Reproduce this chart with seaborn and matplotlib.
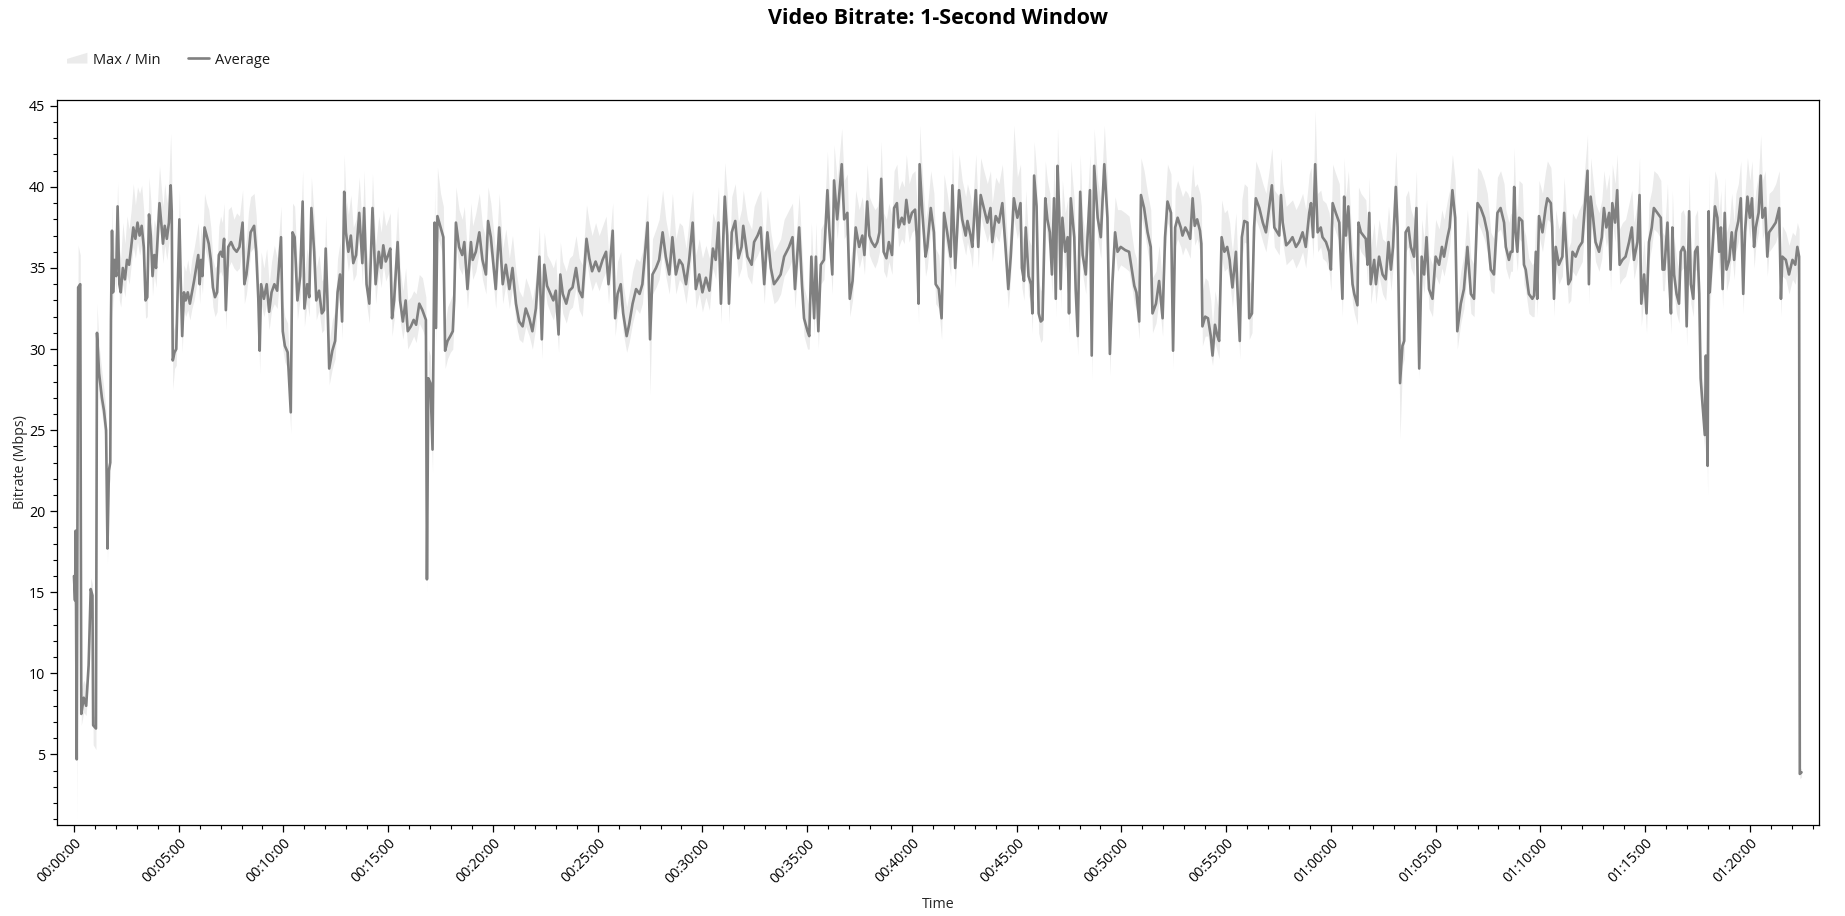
import matplotlib
matplotlib.use("Agg")
import matplotlib.pyplot as plt
import seaborn as sns
import pandas as pd
from matplotlib.ticker import MultipleLocator, FuncFormatter
from matplotlib.lines import Line2D
from matplotlib.patches import Patch, Polygon
from matplotlib.legend_handler import HandlerPatch

# Bitrate samples (time in seconds, Mbps)
time_s = [
    0, 3, 5, 8, 12, 18, 21, 28, 35, 42, 48, 53, 55, 63, 66, 72, 80, 86, 92, 96,
    100, 104, 106, 109, 112, 116, 121, 125, 130, 134, 140, 146, 152, 158, 164, 170, 176, 182, 188, 194,
    200, 205, 210, 215, 220, 225, 230, 235, 240, 245, 250, 255, 260, 266, 272, 277, 280, 283, 288, 293,
    298, 302, 306, 310, 315, 320, 326, 332, 338, 344, 350, 356, 360, 364, 368, 374, 380, 386, 392, 398,
    404, 410, 415, 420,
    425, 430, 435, 442, 450, 458, 466, 474, 483, 488, 494, 500, 506, 516, 522, 528, 532, 536, 544, 552,
    559, 566, 574, 582, 593, 598, 604, 612, 621, 626, 632, 640, 648, 655, 660, 668, 674, 680, 688, 694,
    702, 710, 716, 721, 726, 731, 740, 748, 755, 762, 768, 774, 779, 786, 793, 800, 808, 817, 826, 831,
    838, 846, 855, 864, 873,
    880, 886, 893, 900, 906, 911, 917, 927, 934, 942, 950, 956, 965, 973, 980, 989, 998, 1008, 1011, 1015,
    1021, 1027, 1033, 1037, 1041, 1050, 1058, 1063, 1070, 1078, 1085, 1089, 1094, 1103, 1112, 1118, 1127, 1137, 1142, 1151,
    1161, 1170, 1180, 1186, 1194, 1204, 1208, 1218, 1228, 1237, 1247, 1256, 1266, 1275, 1285, 1294, 1304, 1313, 1323, 1333,
    1340, 1347, 1355, 1365, 1373, 1380, 1388, 1393, 1400, 1410, 1419, 1428, 1438, 1447, 1456, 1468, 1476, 1484, 1494, 1504,
    1514, 1524, 1531, 1543, 1550, 1557, 1566, 1573, 1583, 1590, 1600, 1610, 1620, 1628, 1643, 1650, 1657, 1667, 1676, 1686,
    1695, 1705, 1714, 1724, 1734, 1743, 1753, 1762, 1772, 1781, 1791,
    1800, 1810, 1820, 1830, 1838, 1846, 1853, 1864, 1871, 1876, 1884, 1894, 1903, 1912, 1917, 1929, 1941, 1948, 1958, 1967,
    1977, 1986, 1996, 2005, 2015, 2024, 2034, 2048, 2058, 2065, 2077, 2085, 2091, 2101, 2106, 2112, 2120, 2125, 2132, 2139,
    2148, 2158, 2163, 2172, 2177, 2186, 2199, 2206, 2215, 2222, 2230, 2239, 2249,
    2258, 2264, 2272, 2278, 2285, 2294, 2301, 2307, 2312, 2319, 2327, 2334, 2343, 2349, 2357, 2362, 2371, 2378, 2384, 2392,
    2400, 2409, 2414, 2419, 2422, 2430, 2439, 2444, 2454, 2463, 2468, 2477, 2485, 2492, 2501, 2511, 2516, 2524, 2530, 2535,
    2544, 2554, 2559, 2568, 2573, 2583, 2590, 2597, 2606, 2616, 2625, 2630, 2640, 2649, 2659, 2668, 2676, 2683, 2692, 2702,
    2711,
    2715, 2721, 2726, 2734, 2741, 2745, 2750, 2757, 2763, 2769, 2774, 2782, 2788, 2795, 2801, 2807, 2812, 2817, 2822, 2826,
    2831, 2839, 2846, 2850, 2855, 2865, 2869, 2875, 2882, 2889, 2898, 2903, 2910, 2915, 2922, 2932, 2941, 2951, 2960, 2967,
    2974, 2982, 2989, 2998, 3011, 3022, 3030, 3037, 3043, 3051, 3056, 3065, 3075, 3084, 3089, 3099, 3108, 3118, 3125, 3132,
    3142, 3148, 3154, 3161, 3170,
    3175, 3183, 3190, 3197, 3204, 3210, 3217, 3225, 3229, 3232, 3240, 3248, 3256, 3261, 3268, 3275, 3280, 3287, 3295, 3303,
    3310, 3314, 3318, 3328, 3333, 3339, 3345, 3352, 3361, 3366, 3374, 3380, 3385, 3395, 3405, 3414, 3423, 3431, 3438, 3452,
    3457, 3462, 3472, 3481, 3490, 3500, 3509, 3519, 3528, 3538, 3543, 3549, 3555, 3562, 3571, 3576, 3586, 3595, 3600, 3605,
    3614, 3624,
    3633, 3638, 3643, 3650, 3657, 3662, 3667, 3676, 3679, 3686, 3700, 3705, 3710, 3714, 3724, 3729, 3738, 3748, 3757, 3765,
    3772, 3778, 3786, 3791, 3798, 3805, 3810, 3814, 3822, 3829, 3838, 3845, 3853, 3860, 3867, 3874, 3881, 3891, 3900, 3910,
    3918, 3924, 3934, 3940, 3948, 3956, 3962, 3972, 3981, 3991, 4001, 4010, 4020, 4029, 4039, 4048, 4058, 4067, 4077, 4086,
    4096, 4101, 4110, 4115, 4120, 4125, 4129, 4134, 4139, 4148, 4153, 4158, 4167, 4177, 4182, 4187, 4191, 4196, 4206, 4215,
    4220, 4230, 4234, 4239, 4244, 4253, 4263, 4268, 4272, 4280, 4287, 4292, 4301, 4311, 4320, 4328, 4335, 4339, 4344, 4351,
    4358, 4368, 4376, 4382, 4389, 4397, 4401, 4406, 4414, 4420, 4427, 4435, 4444, 4454, 4462, 4468, 4478, 4484, 4489, 4497,
    4504, 4511, 4519, 4525, 4535, 4545,
    4550, 4555, 4564, 4569, 4574, 4578, 4583, 4590, 4597, 4602, 4609, 4614, 4619, 4626, 4631, 4638, 4643, 4650, 4655, 4659,
    4664, 4671, 4674, 4679, 4682, 4685, 4691, 4700, 4707, 4712, 4717, 4722, 4728, 4733, 4741, 4748, 4755, 4760, 4767, 4774,
    4781, 4786, 4793, 4800, 4806, 4812, 4817, 4825, 4831, 4836, 4844, 4850, 4855, 4865, 4874, 4884, 4889, 4893, 4903, 4912,
    4922, 4930, 4936, 4941, 4943, 4948,
]

avg_mbps = [
    16.0, 14.5, 18.8, 4.7, 33.8, 34.0, 7.5, 8.5, 8.0, 10.5, 15.2, 14.8, 6.8, 6.6, 31.0, 28.5, 27.0, 26.2, 25.0, 17.7,
    22.5, 23.0, 31.8, 37.3, 33.5, 35.5, 34.5, 38.8, 34.0, 33.5, 35.0, 34.3, 35.5, 35.2, 36.3, 37.5, 36.8, 37.8, 37.0, 37.6,
    36.3, 33.0, 33.2, 38.3, 37.0, 34.5, 35.8, 35.0, 37.0, 39.0, 37.8, 36.5, 37.6, 36.8, 37.8, 40.1, 38.5, 29.3, 29.8, 30.0,
    34.5, 38.0, 34.0, 30.8, 33.5, 33.0, 33.5, 32.8, 33.5, 34.2, 35.0, 35.8, 34.0, 35.5, 34.5, 37.5, 37.0, 36.5, 35.5, 33.8,
    33.2, 33.5, 35.8, 36.0,
    35.7, 36.8, 32.4, 36.3, 36.6, 36.2, 36.0, 36.3, 37.8, 34.0, 34.6, 35.8, 37.2, 37.6, 36.0, 33.1, 29.9, 34.0, 33.1, 34.0,
    32.3, 33.5, 34.0, 33.6, 36.9, 31.1, 30.2, 29.8, 26.1, 37.2, 36.9, 33.0, 34.5, 39.1, 32.5, 34.0, 33.2, 38.7, 36.0, 33.0,
    33.6, 32.2, 32.4, 36.2, 33.0, 28.8, 29.9, 30.5, 33.5, 34.6, 31.7, 39.7, 37.2, 36.0, 37.0, 35.3, 35.8, 38.4, 35.3, 38.7,
    34.0, 32.8, 38.7, 34.0, 36.0,
    35.0, 36.4, 35.4, 35.8, 36.2, 31.9, 33.0, 36.6, 33.0, 31.7, 33.0, 31.1, 31.4, 31.8, 31.5, 32.8, 32.4, 31.8, 15.8, 28.2,
    27.9, 23.8, 37.8, 31.3, 38.2, 37.5, 36.9, 29.9, 30.5, 30.8, 31.1, 33.0, 37.8, 36.3, 35.8, 36.6, 33.7, 36.6, 35.5, 36.0,
    37.2, 35.5, 34.6, 37.9, 36.9, 34.6, 33.7, 37.5, 34.0, 35.2, 33.7, 35.0, 32.8, 31.7, 31.4, 32.5, 31.9, 31.1, 32.5, 35.7,
    30.6, 35.2, 33.9, 33.4, 33.0, 33.6, 30.9, 34.6, 33.4, 32.8, 33.6, 33.8, 35.0, 33.6, 33.2, 36.8, 35.6, 34.8, 35.4, 34.8,
    35.5, 36.0, 34.0, 37.3, 31.9, 33.4, 34.0, 32.2, 30.8, 31.5, 32.8, 33.7, 33.4, 34.0, 37.8, 30.6, 34.6, 35.0, 35.5, 37.2,
    35.7, 34.6, 36.9, 34.6, 35.5, 35.2, 34.0, 35.5, 37.8, 33.7, 34.6,
    33.5, 34.4, 33.6, 36.2, 35.5, 37.8, 32.8, 39.4, 37.0, 32.8, 37.2, 37.9, 35.6, 36.3, 37.6, 35.7, 35.2, 36.6, 37.0, 37.5,
    34.0, 37.2, 35.0, 34.0, 34.3, 34.6, 35.7, 36.3, 36.9, 33.7, 37.5, 34.0, 31.9, 31.1, 30.8, 35.7, 31.9, 35.7, 31.1, 35.2,
    35.5, 39.8, 37.5, 34.6, 40.4, 38.0, 41.4, 38.0, 38.4, 33.1, 34.2, 37.5, 36.3,
    37.0, 35.8, 39.1, 37.0, 36.6, 36.3, 36.6, 37.2, 40.5, 36.0, 35.6, 36.6, 35.8, 38.7, 39.0, 37.5, 38.1, 37.7, 39.2, 37.8,
    38.4, 38.6, 36.9, 32.8, 41.4, 38.4, 35.7, 36.3, 38.7, 37.2, 34.0, 33.7, 31.9, 38.4, 37.2, 35.7, 40.1, 35.0, 37.5, 39.8,
    38.0, 37.0, 37.9, 37.0, 36.3, 39.8, 36.3, 39.5, 38.7, 37.8, 38.7, 36.6, 38.2, 37.8, 39.0, 36.3, 33.7, 35.7, 39.3, 38.1,
    39.0,
    35.0, 34.2, 37.5, 34.5, 34.0, 32.2, 40.7, 38.8, 32.2, 31.7, 31.8, 39.3, 38.0, 37.2, 34.6, 39.3, 33.1, 41.3, 38.4, 33.7,
    38.1, 36.0, 36.9, 32.2, 39.3, 36.9, 33.7, 30.8, 39.7, 35.8, 34.6, 36.9, 39.8, 29.6, 41.3, 38.1, 36.9, 41.4, 38.1, 29.7,
    34.0, 37.2, 36.0, 36.3, 36.1, 36.0, 34.9, 33.9, 33.5, 31.7, 39.5, 38.7, 37.2, 36.3, 32.2, 32.8, 34.2, 31.9, 36.9, 39.1,
    38.4, 29.9, 37.5, 38.1, 37.5,
    37.0, 37.5, 37.2, 36.8, 39.3, 37.6, 38.0, 37.3, 36.5, 31.4, 32.0, 31.9, 30.8, 29.6, 31.5, 30.8, 30.5, 36.9, 36.0, 36.3,
    35.5, 34.6, 33.8, 36.0, 33.4, 30.5, 36.9, 37.9, 37.8, 31.9, 32.2, 37.5, 39.3, 38.7, 37.8, 37.2, 38.7, 40.1, 37.5, 37.0,
    39.5, 37.8, 36.4, 36.6, 36.9, 36.3, 36.6, 37.2, 36.3, 38.4, 39.0, 36.9, 41.4, 37.2, 37.5, 36.9, 36.6, 36.0, 34.9, 39.0,
    38.4, 37.8,
    33.1, 39.4, 37.0, 38.8, 35.7, 34.0, 33.4, 32.7, 37.8, 37.2, 36.8, 35.2, 38.4, 34.0, 35.5, 34.0, 35.7, 34.6, 34.3, 36.6,
    34.9, 36.3, 40.0, 37.5, 27.9, 30.2, 30.5, 37.2, 37.5, 36.3, 35.7, 38.7, 28.8, 35.7, 34.6, 36.9, 33.7, 33.1, 35.7, 35.2,
    36.3, 35.7, 36.9, 37.5, 39.8, 38.1, 31.1, 32.8, 33.7, 36.3, 33.4, 33.1, 39.0, 38.7, 38.1, 37.2, 34.9, 34.6, 38.4, 38.7,
    37.8, 36.3, 35.5, 36.0, 36.0, 40.0, 37.2, 36.0, 38.1, 37.9, 35.2, 34.9, 33.4, 33.1, 33.3, 36.0, 33.1, 38.2, 37.2, 38.7,
    39.3, 39.0, 37.5, 33.1, 36.3, 35.2, 35.7, 38.4, 36.9, 34.0, 34.3, 36.0, 35.7, 36.3, 36.6, 39.0, 41.0, 34.0, 39.4, 38.1,
    36.6, 36.0, 36.9, 38.7, 37.5, 38.4, 34.9, 39.0, 37.8, 39.8, 35.2, 35.5, 35.7, 36.6, 37.5, 35.5, 36.6, 39.5, 32.8, 34.6,
    32.2, 36.6, 37.5, 38.7, 38.4, 38.1,
    34.9, 34.9, 37.8, 34.3, 32.2, 37.5, 34.6, 33.4, 32.8, 36.0, 36.3, 36.0, 31.4, 38.5, 34.0, 33.1, 36.0, 36.3, 33.4, 28.2,
    26.7, 24.7, 29.6, 22.8, 38.5, 33.5, 35.5, 38.8, 38.1, 36.0, 37.5, 33.7, 38.4, 34.9, 35.5, 37.2, 35.5, 37.2, 37.9, 39.3,
    33.4, 37.2, 39.4, 38.1, 39.3, 36.3, 37.5, 38.4, 40.7, 38.1, 38.7, 35.7, 37.2, 37.5, 37.8, 38.7, 33.1, 35.7, 35.5, 34.6,
    35.5, 35.2, 36.3, 35.7, 3.8, 3.9,
]

max_mbps = [
    17.2, 16.0, 20.5, 8.0, 36.4, 35.8, 9.0, 9.6, 9.2, 11.6, 15.9, 15.5, 7.4, 7.2, 32.8, 30.2, 28.6, 27.5, 26.2, 18.6,
    23.6, 24.2, 33.5, 38.9, 35.5, 37.2, 36.6, 40.3, 36.2, 35.6, 37.8, 36.5, 38.2, 37.4, 38.6, 40.2, 38.9, 40.0, 39.6, 40.1,
    38.5, 34.8, 35.4, 40.6, 39.2, 36.8, 38.0, 37.5, 39.4, 41.3, 40.0, 38.8, 40.2, 39.0, 40.5, 43.3, 40.8, 31.0, 31.4, 31.8,
    36.2, 39.8, 36.0, 32.6, 35.2, 34.8, 35.5, 34.6, 35.6, 36.2, 37.0, 37.8, 36.0, 37.6, 36.5, 39.6, 39.0, 38.6, 37.5, 35.5,
    35.0, 35.2, 37.6, 38.2,
    37.8, 39.0, 34.2, 38.6, 38.8, 38.0, 38.4, 38.2, 39.8, 36.0, 36.8, 38.5, 39.4, 39.6, 38.2, 35.0, 31.2, 36.0, 35.0, 36.2,
    34.0, 35.4, 36.4, 35.6, 38.8, 33.0, 32.0, 31.6, 27.6, 39.0, 38.8, 35.0, 36.8, 41.0, 34.6, 36.2, 35.2, 40.6, 38.2, 35.0,
    35.8, 34.2, 34.4, 38.2, 35.0, 30.4, 31.8, 32.4, 35.6, 36.6, 33.6, 42.0, 39.4, 38.3, 39.5, 37.5, 38.0, 40.6, 37.4, 41.0,
    36.2, 34.8, 40.8, 36.4, 38.2,
    37.2, 38.6, 37.6, 38.0, 38.4, 33.8, 35.0, 38.8, 35.0, 33.6, 35.0, 33.0, 33.2, 33.6, 33.4, 34.6, 34.4, 33.2, 17.0, 30.0,
    29.6, 25.0, 40.0, 33.4, 41.2, 39.6, 38.8, 31.6, 32.6, 33.0, 33.4, 35.2, 40.0, 38.6, 38.0, 38.8, 35.8, 39.0, 37.6, 38.4,
    39.6, 37.6, 36.8, 40.0, 39.0, 36.8, 35.8, 39.6, 36.2, 37.4, 35.6, 37.0, 34.8, 33.6, 33.2, 34.4, 33.8, 33.0, 34.4, 37.6,
    32.4, 37.2, 35.8, 35.4, 35.0, 35.6, 32.6, 36.6, 35.4, 34.8, 35.6, 35.8, 37.0, 35.6, 35.2, 38.9, 37.8, 37.0, 37.8, 37.0,
    37.6, 38.2, 36.0, 39.0, 33.8, 35.4, 36.0, 34.0, 32.6, 33.4, 34.8, 35.6, 35.4, 36.0, 39.6, 32.4, 36.8, 37.4, 38.0, 39.8,
    38.0, 36.8, 39.6, 36.8, 37.8, 37.6, 36.2, 38.0, 39.8, 35.8, 36.8,
    35.6, 36.4, 35.6, 38.4, 37.8, 40.0, 34.8, 41.5, 39.6, 34.8, 39.4, 40.2, 37.8, 38.6, 39.8, 38.0, 37.4, 38.8, 39.4, 39.8,
    36.0, 39.4, 37.2, 36.0, 36.4, 36.8, 38.0, 38.6, 39.0, 35.8, 39.6, 36.2, 33.8, 33.0, 32.6, 37.8, 34.0, 37.8, 33.2, 37.4,
    37.8, 42.2, 39.8, 36.8, 42.6, 40.4, 43.6, 40.4, 40.8, 35.2, 36.4, 39.8, 38.6,
    39.4, 38.0, 41.4, 39.4, 39.0, 38.6, 38.8, 39.6, 42.8, 38.4, 38.0, 39.0, 38.2, 41.0, 41.4, 39.8, 40.4, 40.0, 42.0, 40.2,
    40.8, 41.0, 39.2, 34.8, 43.8, 40.8, 38.0, 38.6, 41.0, 39.6, 36.2, 35.8, 33.8, 40.8, 39.6, 38.0, 42.4, 37.4, 39.8, 42.0,
    40.4, 39.4, 40.2, 39.4, 38.6, 42.0, 38.6, 41.8, 41.0, 40.2, 41.0, 39.0, 40.6, 40.2, 41.4, 38.6, 35.8, 38.0, 43.8, 40.6,
    41.4,
    37.4, 36.6, 39.8, 36.8, 36.4, 34.2, 42.8, 41.0, 34.2, 33.6, 33.8, 41.6, 40.4, 39.6, 36.8, 41.6, 35.2, 43.6, 40.8, 35.8,
    40.4, 38.4, 39.2, 34.2, 41.6, 39.2, 35.8, 32.6, 42.0, 38.2, 36.8, 39.2, 42.0, 31.4, 43.6, 40.4, 39.2, 43.8, 40.4, 31.6,
    36.2, 39.4, 38.6, 38.6, 38.4, 38.2, 37.0, 36.0, 35.6, 33.6, 41.8, 41.0, 39.6, 38.6, 34.4, 34.8, 36.4, 34.0, 39.0, 41.4,
    40.8, 31.6, 39.8, 40.4, 39.8,
    39.4, 39.8, 39.6, 39.2, 41.4, 40.0, 40.2, 39.6, 38.8, 33.6, 34.4, 34.2, 33.0, 31.4, 33.6, 32.8, 32.4, 39.2, 38.4, 38.6,
    37.8, 36.8, 36.0, 38.4, 35.6, 32.4, 39.2, 40.2, 40.0, 34.0, 34.4, 39.8, 41.6, 41.0, 40.2, 39.6, 41.0, 42.4, 39.8, 39.4,
    41.8, 40.2, 38.8, 39.0, 39.2, 38.6, 39.0, 39.6, 38.6, 40.8, 41.2, 39.2, 44.7, 39.6, 39.8, 39.2, 39.0, 38.4, 37.0, 41.4,
    40.8, 40.2,
    35.2, 41.8, 39.4, 41.0, 38.0, 36.2, 35.6, 34.8, 40.0, 39.6, 39.2, 37.4, 40.6, 36.2, 37.8, 36.2, 38.0, 36.8, 36.6, 38.8,
    37.2, 38.6, 42.2, 39.8, 29.6, 32.0, 32.4, 39.4, 39.8, 38.6, 38.0, 41.0, 30.6, 38.0, 36.8, 39.2, 35.8, 35.2, 38.0, 37.4,
    38.6, 38.0, 39.2, 39.8, 42.0, 40.4, 33.0, 34.8, 35.8, 38.6, 35.6, 35.2, 41.2, 41.0, 40.4, 39.6, 37.2, 36.8, 40.6, 41.0,
    40.2, 38.6, 37.8, 38.4, 38.2, 42.4, 39.6, 38.4, 40.4, 40.2, 37.4, 37.0, 35.6, 35.2, 35.4, 38.2, 35.2, 40.4, 39.6, 41.0,
    41.6, 41.2, 39.8, 35.2, 38.6, 37.4, 38.0, 40.6, 39.2, 36.2, 36.6, 38.4, 38.0, 38.6, 39.0, 41.4, 43.2, 36.2, 41.8, 40.4,
    39.0, 38.4, 39.2, 41.0, 39.8, 40.8, 37.2, 41.4, 40.2, 42.0, 37.4, 37.8, 38.0, 39.0, 39.8, 37.8, 39.0, 41.8, 34.8, 36.8,
    34.2, 39.0, 39.8, 41.0, 40.8, 40.4,
    37.2, 37.0, 40.2, 36.6, 34.2, 39.8, 36.8, 35.6, 34.8, 38.4, 38.6, 38.2, 33.4, 40.8, 36.2, 35.2, 38.2, 38.6, 35.6, 30.0,
    28.4, 26.4, 31.4, 24.0, 40.8, 35.6, 37.8, 41.0, 40.4, 38.4, 39.8, 35.8, 40.6, 37.2, 37.8, 39.6, 37.8, 39.6, 40.2, 41.6,
    35.6, 39.6, 41.8, 40.4, 41.6, 38.6, 39.8, 40.8, 43.2, 40.4, 41.0, 38.0, 39.6, 39.8, 40.2, 41.0, 35.2, 37.6, 37.2, 36.4,
    37.2, 37.0, 37.8, 37.4, 4.2, 4.1,
]

min_mbps = [
    14.4, 14.0, 17.8, 1.0, 32.8, 33.0, 6.8, 7.6, 7.4, 9.8, 14.0, 14.3, 5.6, 5.3, 29.0, 27.0, 26.0, 25.0, 24.0, 16.8,
    21.5, 22.0, 30.2, 36.0, 32.4, 34.4, 33.5, 37.6, 33.0, 32.6, 34.0, 33.2, 34.6, 34.0, 35.2, 36.3, 35.6, 36.6, 35.8, 36.4,
    35.0, 31.9, 32.0, 37.2, 35.8, 33.3, 34.6, 33.8, 35.8, 37.8, 36.5, 35.3, 36.4, 35.5, 36.6, 38.8, 37.2, 27.5, 28.8, 29.0,
    33.2, 36.8, 32.8, 29.8, 32.4, 32.0, 32.4, 31.8, 32.5, 33.0, 33.8, 34.6, 32.8, 34.3, 33.4, 36.3, 35.8, 35.3, 34.3, 32.6,
    32.0, 32.3, 34.6, 34.8,
    34.5, 35.5, 31.2, 35.0, 35.4, 35.0, 34.8, 35.0, 36.5, 32.8, 33.4, 34.6, 36.0, 36.3, 34.8, 32.0, 28.5, 32.8, 32.0, 32.8,
    31.2, 32.4, 32.8, 32.5, 35.6, 30.0, 29.2, 28.8, 24.8, 36.0, 35.6, 31.8, 33.2, 37.8, 31.4, 32.8, 32.0, 37.4, 34.8, 31.8,
    32.4, 31.0, 31.2, 35.0, 31.8, 27.8, 28.8, 29.4, 32.4, 33.4, 30.6, 38.4, 36.0, 34.8, 35.8, 34.2, 34.6, 37.2, 34.0, 37.4,
    32.8, 31.6, 37.4, 32.8, 34.8,
    33.8, 35.2, 34.2, 34.6, 35.0, 30.8, 31.8, 35.4, 31.8, 30.6, 31.8, 30.0, 30.4, 30.8, 30.4, 31.6, 31.2, 30.6, 15.0, 27.2,
    26.8, 22.4, 36.5, 30.2, 37.0, 36.3, 35.6, 28.8, 29.4, 29.8, 30.0, 31.8, 36.5, 35.0, 34.6, 35.4, 32.5, 35.4, 34.3, 34.8,
    36.0, 34.3, 33.4, 36.6, 35.6, 33.4, 32.5, 36.3, 32.8, 34.0, 32.5, 33.8, 31.6, 30.6, 30.4, 31.4, 30.8, 30.0, 31.4, 34.5,
    29.4, 34.0, 32.8, 32.2, 31.8, 32.4, 29.8, 33.4, 32.2, 31.6, 32.4, 32.6, 33.8, 32.4, 32.0, 35.5, 34.4, 33.6, 34.2, 33.6,
    34.3, 34.8, 32.8, 36.0, 30.8, 32.2, 32.8, 31.0, 29.8, 30.4, 31.6, 32.5, 32.2, 32.8, 36.5, 27.2, 33.4, 33.8, 34.3, 36.0,
    34.5, 33.4, 35.6, 33.4, 34.3, 34.0, 32.8, 34.3, 36.5, 32.5, 33.4,
    32.3, 33.2, 32.4, 35.0, 34.3, 36.5, 31.6, 38.0, 35.8, 31.6, 36.0, 36.6, 34.4, 35.0, 36.4, 34.5, 34.0, 35.4, 35.8, 36.3,
    32.8, 36.0, 33.8, 32.8, 33.0, 33.4, 34.5, 35.0, 35.6, 32.5, 36.2, 32.8, 30.8, 30.0, 30.0, 34.5, 30.8, 34.5, 30.0, 34.0,
    34.3, 38.5, 36.3, 33.4, 39.0, 36.8, 40.0, 36.8, 37.2, 32.0, 33.0, 36.3, 35.0,
    35.8, 34.6, 37.8, 35.8, 35.4, 35.0, 35.4, 36.0, 39.2, 34.8, 34.4, 35.4, 34.6, 37.4, 37.8, 36.3, 36.8, 36.5, 38.0, 36.6,
    37.2, 37.4, 35.6, 31.6, 40.0, 37.2, 34.5, 35.0, 37.4, 36.0, 32.8, 32.5, 30.6, 37.2, 36.0, 34.5, 38.8, 33.8, 36.3, 38.5,
    36.8, 35.8, 36.6, 35.8, 35.0, 38.5, 35.0, 38.2, 37.4, 36.6, 37.4, 35.4, 37.0, 36.6, 37.8, 35.0, 32.5, 34.5, 38.0, 36.8,
    37.8,
    33.8, 33.0, 36.3, 33.3, 32.8, 31.0, 39.4, 37.5, 31.0, 30.4, 30.6, 38.0, 36.8, 36.0, 33.4, 38.0, 32.0, 40.0, 37.2, 32.5,
    36.8, 34.8, 35.6, 31.0, 38.0, 35.6, 32.5, 29.6, 38.4, 34.6, 33.4, 35.6, 38.5, 28.1, 40.0, 36.8, 35.6, 40.0, 36.8, 28.4,
    32.8, 36.0, 34.8, 35.2, 35.0, 34.8, 33.8, 32.8, 32.4, 30.6, 38.2, 37.4, 36.0, 35.0, 31.0, 31.6, 33.0, 30.8, 35.6, 37.8,
    37.2, 28.8, 36.3, 36.8, 36.3,
    35.8, 36.3, 36.0, 35.6, 38.0, 36.4, 36.8, 36.0, 35.3, 30.2, 30.8, 30.8, 29.6, 29.0, 30.4, 29.8, 29.4, 35.6, 34.8, 35.0,
    34.3, 33.4, 32.6, 34.8, 32.2, 29.4, 35.6, 36.6, 36.5, 30.6, 31.0, 36.3, 38.0, 37.4, 36.6, 36.0, 37.4, 38.8, 36.3, 35.8,
    38.2, 36.6, 35.2, 35.4, 35.6, 35.0, 35.4, 36.0, 35.0, 37.2, 37.8, 35.6, 40.0, 36.0, 36.3, 35.6, 35.4, 34.8, 33.6, 37.8,
    37.2, 36.6,
    32.0, 38.0, 35.8, 37.5, 34.5, 32.8, 32.2, 31.5, 36.5, 36.0, 35.6, 34.0, 37.2, 32.8, 34.3, 32.8, 34.5, 33.4, 33.0, 35.4,
    33.6, 35.0, 38.6, 36.3, 24.5, 29.0, 29.4, 36.0, 36.3, 35.0, 34.5, 37.4, 28.2, 34.5, 33.4, 35.6, 32.5, 32.0, 34.5, 34.0,
    35.0, 34.5, 35.6, 36.3, 38.5, 36.8, 30.0, 31.6, 32.5, 35.0, 32.2, 32.0, 37.8, 37.4, 36.8, 36.0, 33.6, 33.4, 37.2, 37.4,
    36.6, 35.0, 34.3, 34.8, 34.8, 38.6, 36.0, 34.8, 36.8, 36.6, 34.0, 33.6, 32.2, 32.0, 32.0, 34.8, 32.0, 37.0, 36.0, 37.4,
    38.0, 37.8, 36.3, 32.0, 35.0, 34.0, 34.5, 37.2, 35.6, 32.8, 33.0, 34.8, 34.5, 35.0, 35.4, 37.8, 39.6, 32.8, 38.0, 36.8,
    35.4, 34.8, 35.6, 37.4, 36.3, 37.2, 33.6, 37.8, 36.6, 38.5, 34.0, 34.3, 34.5, 35.4, 36.3, 34.3, 35.4, 38.2, 31.4, 33.4,
    31.0, 35.4, 36.3, 37.4, 37.2, 36.8,
    33.6, 33.6, 36.6, 33.0, 31.0, 36.3, 33.4, 32.2, 31.6, 34.8, 35.0, 34.8, 30.2, 37.2, 32.8, 32.0, 34.8, 35.0, 32.2, 27.0,
    25.6, 23.6, 28.4, 21.0, 37.2, 32.4, 34.3, 37.5, 36.8, 34.8, 36.3, 32.5, 37.2, 33.6, 34.3, 36.0, 34.3, 36.0, 36.6, 38.0,
    32.2, 36.0, 38.0, 36.8, 38.0, 35.0, 36.3, 37.2, 39.4, 36.8, 37.4, 34.5, 36.0, 36.3, 36.6, 37.4, 32.0, 34.5, 34.3, 33.4,
    34.3, 34.0, 35.0, 34.5, 3.5, 3.6,
]

df = pd.DataFrame({"Time": time_s, "Average": avg_mbps, "Max": max_mbps, "Min": min_mbps})

BAND = "#ebebeb"
LINE = "#808080"

sns.set_style("ticks", {"axes.edgecolor": "black", "xtick.color": "black", "ytick.color": "black"})
plt.rcParams["font.family"] = ["Open Sans", "DejaVu Sans"]
plt.rcParams["text.color"] = "#1a1a1a"

fig = plt.figure(figsize=(18.45, 9.16), dpi=100)
ax = fig.add_axes([56.5 / 1845, 1 - 825 / 916, (1819 - 56.5) / 1845, (825 - 100) / 916])

ax.fill_between(df["Time"], df["Min"], df["Max"], color=BAND, linewidth=0)
sns.lineplot(data=df, x="Time", y="Average", ax=ax, color=LINE, linewidth=1.9, estimator=None)

ax.set_xlim(-50, 4998)
ax.set_ylim(0.65, 45.36)


def hms(x, pos):
    s = int(round(x))
    return f"{s // 3600:02d}:{(s % 3600) // 60:02d}:{s % 60:02d}"


ax.xaxis.set_major_locator(MultipleLocator(300))
ax.xaxis.set_minor_locator(MultipleLocator(60))
ax.xaxis.set_major_formatter(FuncFormatter(hms))
ax.yaxis.set_major_locator(MultipleLocator(5))
ax.yaxis.set_minor_locator(MultipleLocator(1))

ax.tick_params(which="major", length=5, width=0.9, labelsize=10.3, pad=3)
ax.tick_params(which="minor", length=3, width=0.8)
for lbl in ax.get_xticklabels():
    lbl.set_rotation(45)
    lbl.set_ha("right")
    lbl.set_rotation_mode("anchor")
for sp in ax.spines.values():
    sp.set_linewidth(0.9)
    sp.set_color("black")

ax.set_xlabel("Time", fontsize=10.3)
ax.set_ylabel("Bitrate (Mbps)", fontsize=10.3)
ax.xaxis.label.set_va("center")
ax.yaxis.label.set_va("center")
ax.xaxis.set_label_coords(0.5, -0.109)
ax.yaxis.set_label_coords(-0.0205, 0.5)

fig.text(938 / 1845, 1 - 19 / 916, "Video Bitrate: 1-Second Window",
         ha="center", va="center", fontsize=15.5, fontweight="bold", color="black")


class AreaHandler(HandlerPatch):
    def create_artists(self, legend, orig_handle, xdescent, ydescent, width, height, fontsize, trans):
        x0, y0 = -xdescent, -ydescent
        pts = [[x0, y0], [x0, y0 + height * 0.45], [x0 + width, y0 + height * 1.05], [x0 + width, y0]]
        return [Polygon(pts, closed=True, facecolor=BAND, edgecolor="none", transform=trans)]


handles = [Patch(facecolor=BAND, edgecolor="none"), Line2D([0], [0], color=LINE, linewidth=1.9)]
fig.legend(handles, ["Max / Min", "Average"], loc="center left",
           bbox_to_anchor=(67 / 1845, 1 - 60 / 916), ncol=2, frameon=False,
           fontsize=10.5, handlelength=1.4, handletextpad=0.4, columnspacing=1.9,
           borderpad=0, borderaxespad=0, handler_map={Patch: AreaHandler()})

fig.savefig("out.png", dpi=100)
